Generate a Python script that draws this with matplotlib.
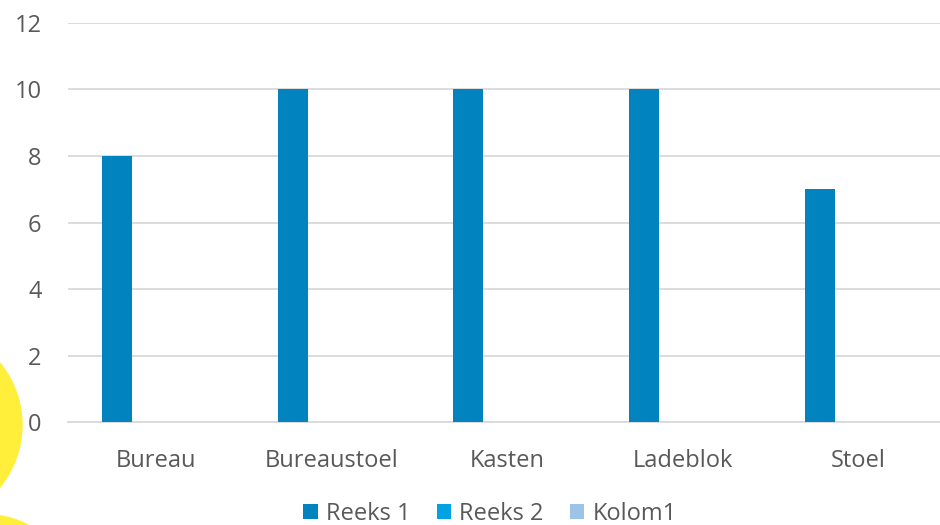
import matplotlib.pyplot as plt
from matplotlib.patches import Ellipse
import numpy as np

# data
categories = ['Bureau', 'Bureaustoel', 'Kasten', 'Ladeblok', 'Stoel']
reeks1 = [8, 10, 10, 10, 7]
reeks2 = [0, 0, 0, 0, 0]
kolom1 = [0, 0, 0, 0, 0]
series_names = ['Reeks 1', 'Reeks 2', 'Kolom1']

colors = ['#0083BE', '#00A2E2', '#9DC3E6']
text_color = '#595959'
grid_color = '#D9D9D9'

plt.rcParams['font.family'] = ['Open Sans', 'DejaVu Sans']

W, H = 940, 525
fig = plt.figure(figsize=(W / 100, H / 100), dpi=100)

# yellow background blobs (slide decoration)
yellow = '#FFEE3A'
for cx, cy, r in [(-76, 425, 98), (-12, 600, 85)]:
    fig.patches.append(Ellipse((cx / W, 1 - cy / H), 2 * r / W, 2 * r / H,
                               transform=fig.transFigure, color=yellow, zorder=0))

# plot area in pixels: x 68..946.5 (clipped), y 22.7..422.3
left, right, top, bottom = 68, 946.5, 22.7, 422.3
ax = fig.add_axes([left / W, 1 - bottom / H, (right - left) / W, (bottom - top) / H])
ax.patch.set_alpha(0)

x = np.arange(len(categories))
bw = 30 / 175.7
off = 39 / 175.7
for i, (vals, name) in enumerate(zip([reeks1, reeks2, kolom1], series_names)):
    ax.bar(x + (i - 1) * off, vals, width=bw, color=colors[i], label=name, zorder=3)

ax.set_xlim(-0.5, 4.5)
ax.set_ylim(0, 12)
ax.set_yticks(range(0, 13, 2))
ax.set_xticks(x)
ax.set_xticklabels(categories)
ax.yaxis.grid(True, color=grid_color, linewidth=1.3, zorder=0)
ax.set_axisbelow(True)
for s in ['top', 'right', 'left']:
    ax.spines[s].set_visible(False)
ax.spines['bottom'].set_color(grid_color)
ax.spines['bottom'].set_linewidth(1.3)
ax.tick_params(axis='both', length=0, labelsize=17, labelcolor=text_color)
ax.tick_params(axis='y', pad=19)
ax.tick_params(axis='x', pad=19)

fig.legend(loc='center', bbox_to_anchor=(490 / W, 1 - 514 / H), ncol=3, frameon=False,
           fontsize=17, labelcolor=text_color, handlelength=0.62, handleheight=0.62,
           handletextpad=0.35, columnspacing=1.1, borderpad=0)

fig.savefig('out.png', dpi=100)
